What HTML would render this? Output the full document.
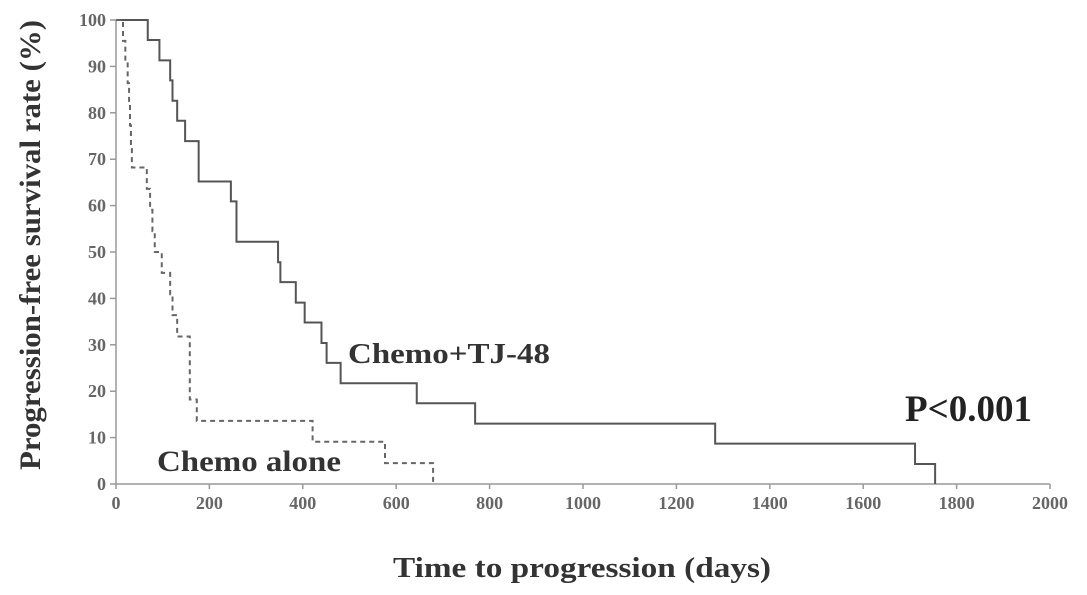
<!DOCTYPE html>
<html><head><meta charset="utf-8"><style>
body{margin:0;background:#fff}
svg{display:block}
text{font-family:"Liberation Serif",serif;font-weight:bold}
</style></head><body>
<svg id="chart" width="1087" height="595" viewBox="0 0 1087 595">
<g id="axes"></g>
<g id="series"></g>
<text x="348" y="363" font-size="29" fill="#333" textLength="202" lengthAdjust="spacingAndGlyphs">Chemo+TJ-48</text>
<text x="157" y="471" font-size="30" fill="#333" textLength="184" lengthAdjust="spacingAndGlyphs">Chemo alone</text>
<text x="905" y="421" font-size="37" fill="#222" textLength="127" lengthAdjust="spacingAndGlyphs">P&lt;0.001</text>
<text x="393" y="577" font-size="29" fill="#333" textLength="378" lengthAdjust="spacingAndGlyphs">Time to progression (days)</text>
<text transform="translate(40,470) rotate(-90)" font-size="30" fill="#333" textLength="450" lengthAdjust="spacingAndGlyphs">Progression-free survival rate (%)</text>
</svg>
<script>
const xTicks=[0,200,400,600,800,1000,1200,1400,1600,1800,2000];
const yTicks=[0,10,20,30,40,50,60,70,80,90,100];
const tjDays=[0,68,93,116,121,131,148,177,246,258,347,352,385,404,440,451,481,644,769,1283,1711,1754];
const tjSurv=[100,95.7,91.3,87,82.6,78.3,73.9,65.2,60.9,52.2,47.8,43.5,39.1,34.8,30.4,26.1,21.7,17.4,13,8.7,4.3,0];
const aloneDays=[0,15,20,25,28,30,32,34,66,73,78,83,98,116,121,131,158,173,421,576,679];
const aloneSurv=[100,95.5,90.9,86.4,81.8,77.3,72.7,68.2,63.6,59.1,54.5,50,45.5,40.9,36.4,31.8,18.2,13.6,9.1,4.5,0];
const NS='http://www.w3.org/2000/svg';
const x0=116,x1=1050,y0=484,y1=20;
const sx=d=>x0+(x1-x0)*d/2000;
const sy=v=>y0-(y0-y1)*v/100;
const axes=document.getElementById('axes');
function mk(tag,attrs,parent){const e=document.createElementNS(NS,tag);for(const k in attrs)e.setAttribute(k,attrs[k]);parent.appendChild(e);return e;}
const xa=mk('line',{x1:x0,y1:y0,x2:x1,y2:y0,stroke:'#999','stroke-width':1.5},axes);


const ya=mk('line',{x1:x0,y1:y0,x2:x0,y2:y1,stroke:'#999','stroke-width':1.5},axes);


xTicks.forEach(t=>{
  const l=mk('line',{x1:sx(t),y1:y0,x2:sx(t),y2:y0+5,stroke:'#999','stroke-width':1.5},axes);
  
  
  const tx=mk('text',{x:sx(t),y:y0+25,'font-size':18,fill:'#666','text-anchor':'middle'},axes);
  tx.textContent=t;
  
  
});
yTicks.forEach(t=>{
  const l=mk('line',{x1:x0-6,y1:sy(t),x2:x0,y2:sy(t),stroke:'#999','stroke-width':1.5},axes);
  
  
  const tx=mk('text',{x:x0-10,y:sy(t)+6,'font-size':18,fill:'#666','text-anchor':'end'},axes);
  tx.textContent=t;
  
  
});
function stepPath(days,surv){
  let d='M'+sx(days[0])+','+sy(surv[0]);
  for(let i=1;i<days.length;i++){d+=' H'+sx(days[i])+' V'+sy(surv[i]);}
  return d;
}
const ser=document.getElementById('series');
const p1=mk('path',{d:stepPath(tjDays,tjSurv),fill:'none',stroke:'#555','stroke-width':2},ser);


const p2=mk('path',{d:stepPath(aloneDays,aloneSurv),fill:'none',stroke:'#666','stroke-width':2,'stroke-dasharray':'5,4'},ser);


</script>
</body></html>
